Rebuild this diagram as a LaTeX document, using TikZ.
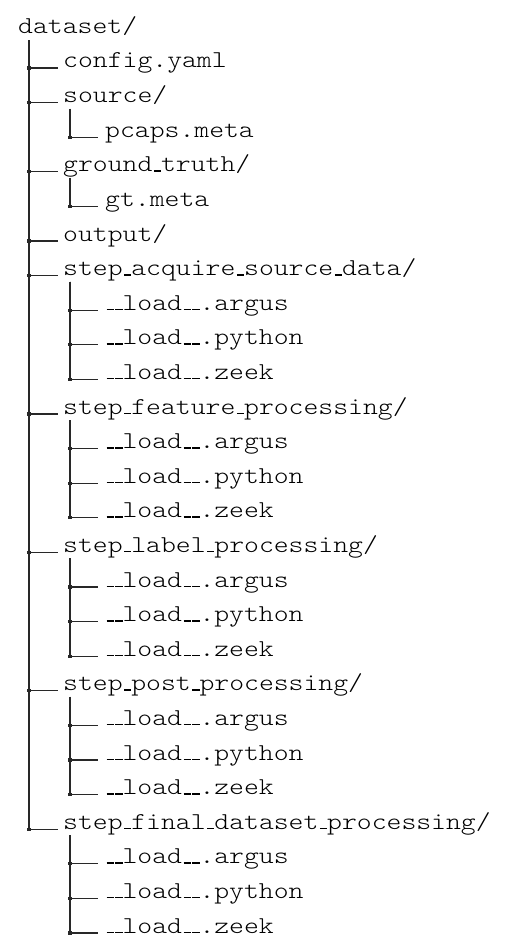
\documentclass[tikz,border=0pt]{standalone}
\usepackage{fontspec}
\setmonofont{lmmonolt10-regular.otf}[FakeStretch=1.17]
\usepackage{tikz}
\usetikzlibrary{positioning}
\definecolor{treeline}{RGB}{40, 40, 40}
% short underscore, as the tree prints it
\newcommand{\us}{\kern.06em\vbox{\hrule width .3em height .055em}}
\newcommand{\treefont}{\fontsize{24.2}{28}\ttfamily}

\begin{document}
\begin{tikzpicture}[
    x=1pt, y=-1pt,
    entry/.style={anchor=base west, inner sep=0pt, font=\treefont},
    branch/.style={draw=treeline, line width=1.1pt},
    dot/.style={rectangle, fill=treeline, minimum size=3.2pt, inner sep=0pt}
]
    \useasboundingbox (0,0) rectangle (506,944);

    \node (root) [entry] at (18,33.4) {dataset/};

    \node (config) [entry] at (63,68.0) {config.yaml};
    \node (source) [entry] at (63,102.6) {source/};
    \node (pcaps) [entry] at (105,137.2) {pcaps.meta};
    \node (ground) [entry] at (63,171.8) {ground\us truth/};
    \node (gt) [entry] at (105,206.4) {gt.meta};
    \node (output) [entry] at (63,241.0) {output/};

    \node (acquire) [entry] at (63,275.6) {step\us acquire\us source\us data/};
    \node (acquire-argus) [entry] at (105,310.2) {\us\us load\us\us.argus};
    \node (acquire-python) [entry] at (105,344.8) {\us\us load\us\us.python};
    \node (acquire-zeek) [entry] at (105,379.4) {\us\us load\us\us.zeek};

    \node (feature) [entry] at (63,414.0) {step\us feature\us processing/};
    \node (feature-argus) [entry] at (105,448.6) {\us\us load\us\us.argus};
    \node (feature-python) [entry] at (105,483.2) {\us\us load\us\us.python};
    \node (feature-zeek) [entry] at (105,517.8) {\us\us load\us\us.zeek};

    \node (label) [entry] at (63,552.4) {step\us label\us processing/};
    \node (label-argus) [entry] at (105,587.0) {\us\us load\us\us.argus};
    \node (label-python) [entry] at (105,621.6) {\us\us load\us\us.python};
    \node (label-zeek) [entry] at (105,656.2) {\us\us load\us\us.zeek};

    \node (post) [entry] at (63,690.8) {step\us post\us processing/};
    \node (post-argus) [entry] at (105,725.4) {\us\us load\us\us.argus};
    \node (post-python) [entry] at (105,760.0) {\us\us load\us\us.python};
    \node (post-zeek) [entry] at (105,794.6) {\us\us load\us\us.zeek};

    \node (final) [entry] at (63,829.2) {step\us final\us dataset\us processing/};
    \node (final-argus) [entry] at (105,863.8) {\us\us load\us\us.argus};
    \node (final-python) [entry] at (105,898.4) {\us\us load\us\us.python};
    \node (final-zeek) [entry] at (105,933.0) {\us\us load\us\us.zeek};

    % first level
    \foreach \kid in {config,source,ground,output,acquire,feature,label,post,final}
        \draw [branch] ([xshift=11pt,yshift=-7pt]root.base west) |- node[dot]{} ([xshift=-5pt]\kid.base west);

    % second level
    \draw [branch] ([xshift=7pt,yshift=-6pt]source.base west) |- node[dot]{} ([xshift=-7pt]pcaps.base west);
    \draw [branch] ([xshift=7pt,yshift=-6pt]ground.base west) |- node[dot]{} ([xshift=-7pt]gt.base west);
    \foreach \step in {acquire,feature,label,post,final}
        \foreach \tool in {argus,python,zeek}
            \draw [branch] ([xshift=7pt,yshift=-6pt]\step.base west) |- node[dot]{} ([xshift=-7pt]\step-\tool.base west);
\end{tikzpicture}
\end{document}
